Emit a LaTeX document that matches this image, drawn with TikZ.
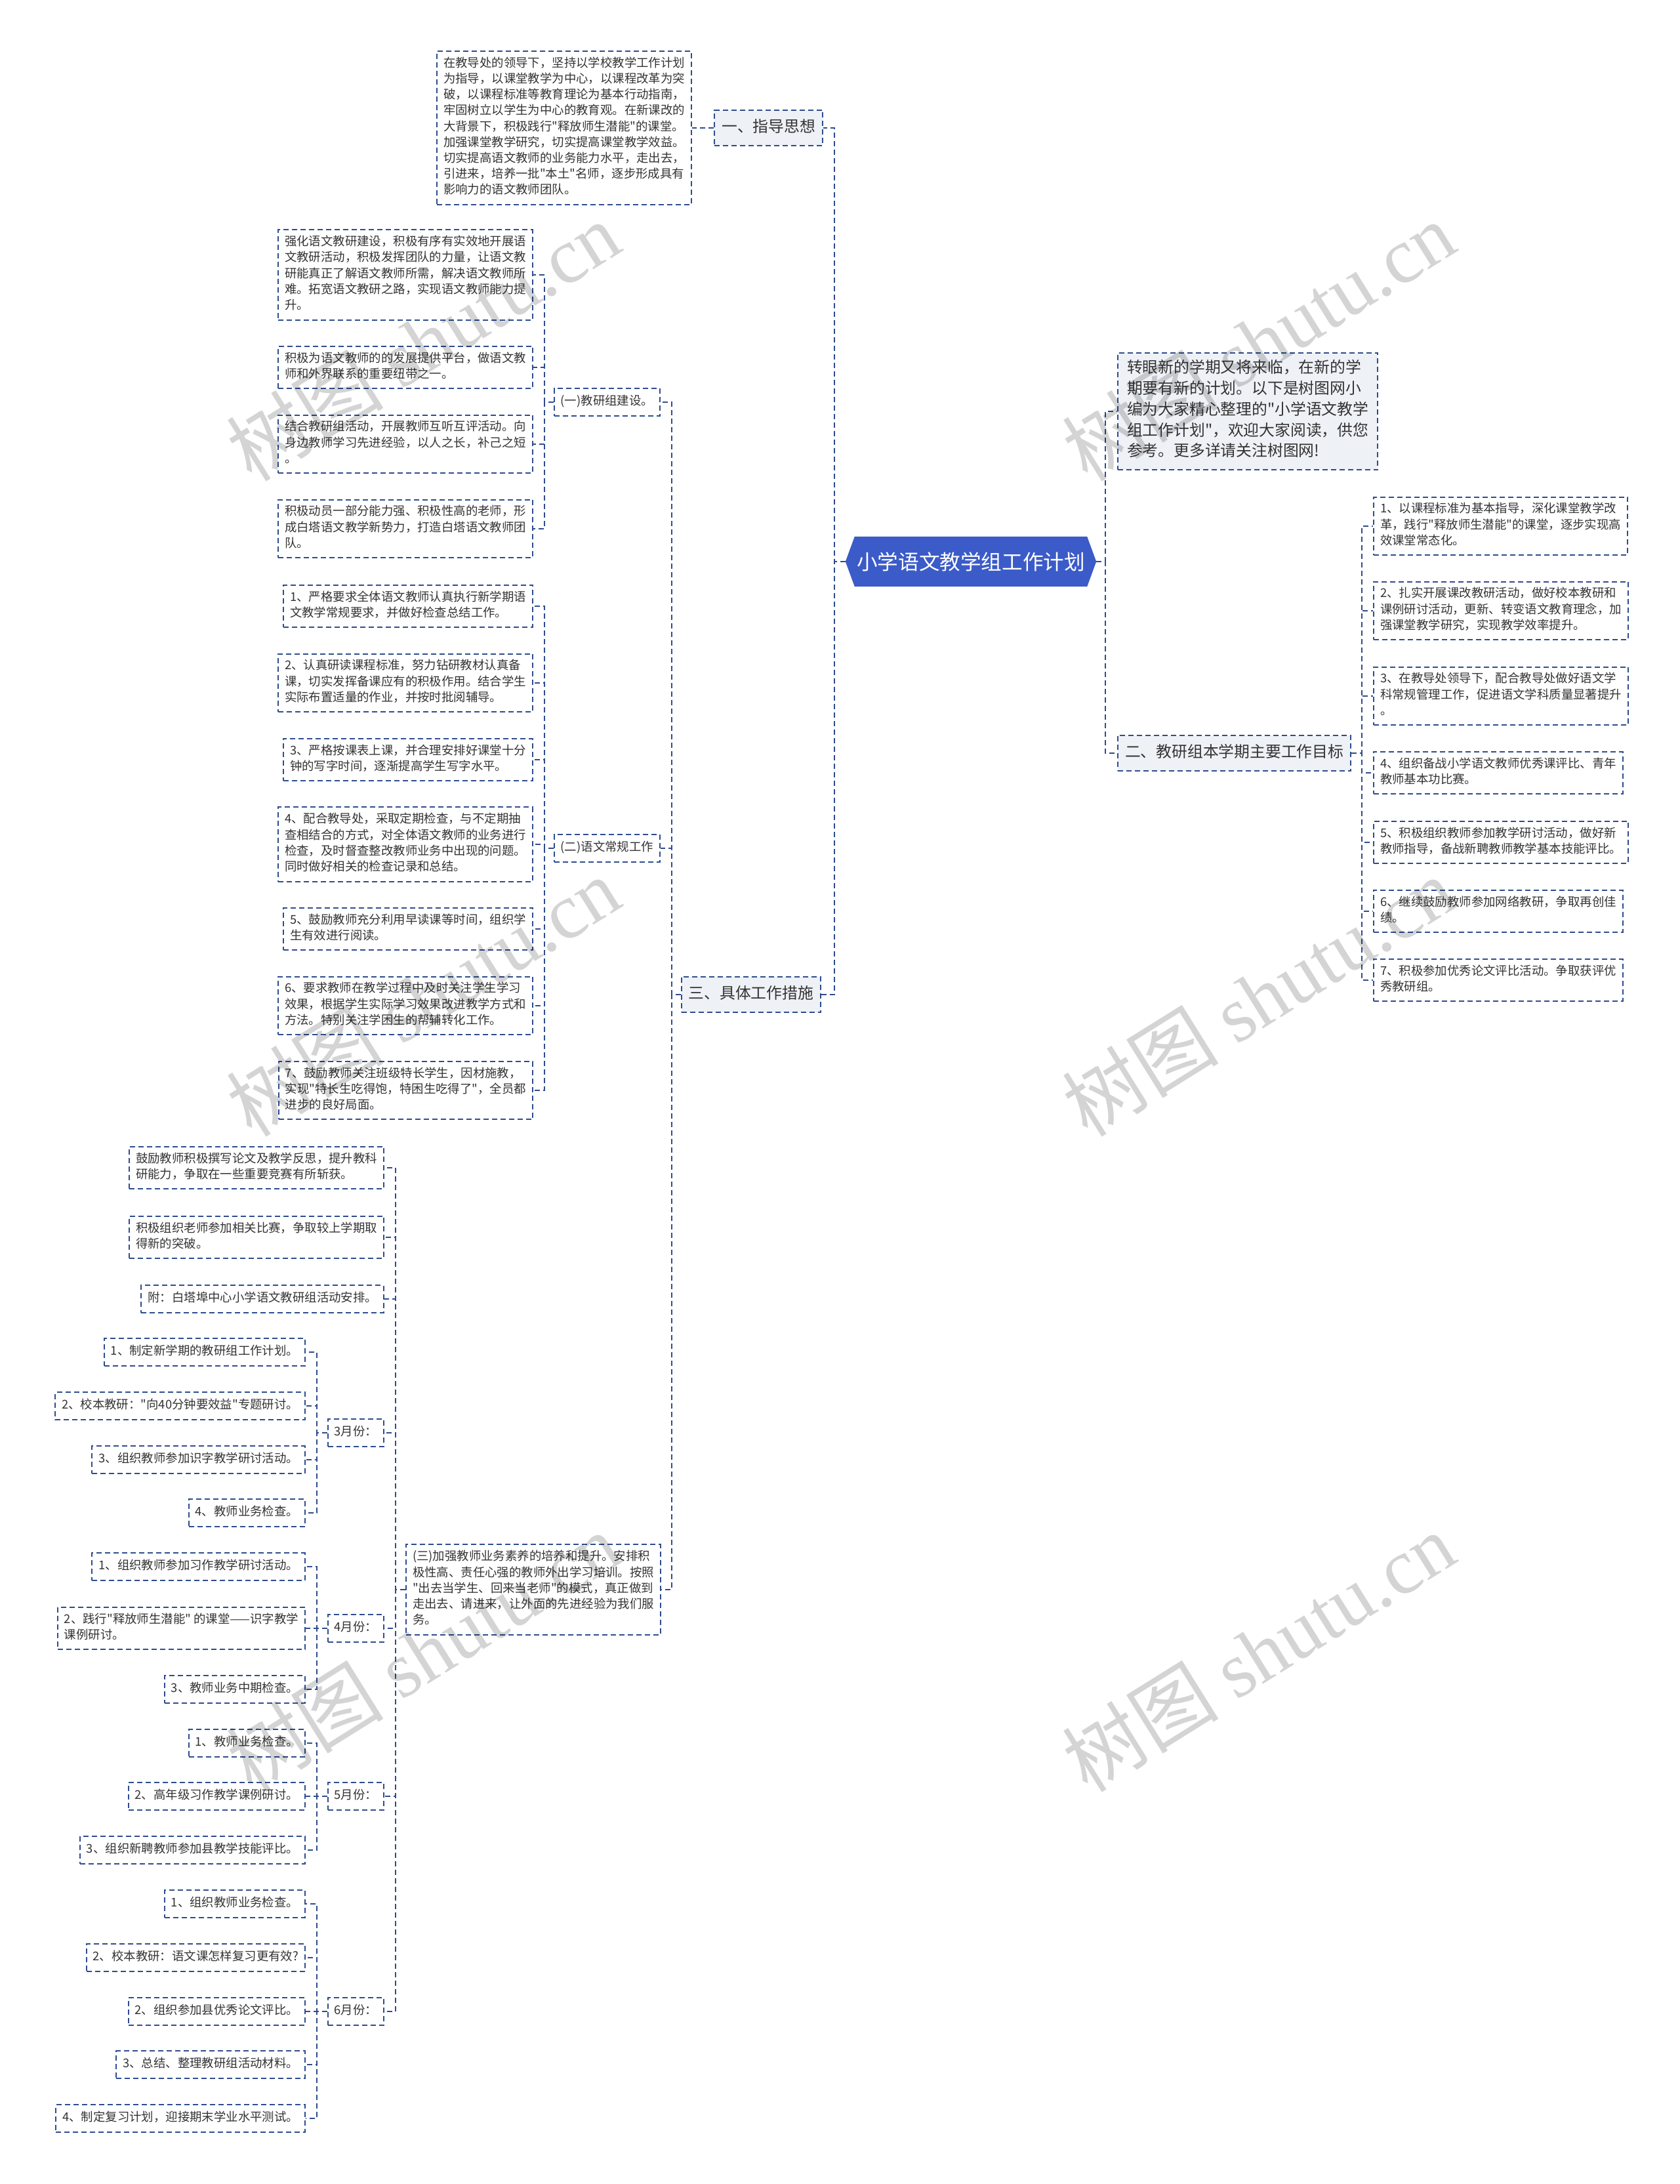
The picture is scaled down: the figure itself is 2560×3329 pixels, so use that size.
\documentclass[tikz,border=0pt]{standalone}
\usepackage{fontspec}
\setmainfont{Noto Sans CJK SC}[Ligatures=TeXOff]
\newfontfamily\wmfont{Liberation Serif}[Ligatures=TeXOff]
\definecolor{lc}{HTML}{2E4C8E}
\definecolor{bfill}{HTML}{EEF1F6}
\definecolor{rootc}{HTML}{3B5BC8}
\definecolor{tc}{HTML}{333333}
\pgfdeclarelayer{bg}
\pgfdeclarelayer{mid}
\pgfsetlayers{bg,mid,main}
\tikzset{
  box/.style={draw=lc, line width=2pt, dash pattern=on 8pt off 5pt, fill=white,
    text=tc, align=left, font=\fontsize{18.4pt}{24.2pt}\selectfont,
    inner xsep=10pt, inner ysep=8.8pt,
    execute at begin node=\strut, execute at end node=\strut},
  bigbox/.style={box, fill=bfill, font=\fontsize{23.8pt}{31.7pt}\selectfont,
    inner xsep=11pt, inner ysep=11.6pt},
  rootnode/.style={rectangle, text=white, font=\fontsize{31.6pt}{38pt}\selectfont,
    inner sep=0pt, minimum width=382pt, minimum height=76pt},
  conn/.style={draw=lc, line width=2pt, dash pattern=on 8pt off 5pt},
  wm/.style={rotate=32, text=black, text opacity=0.17,
    font=\fontsize{120pt}{120pt}\selectfont}
}
\begin{document}
\begin{tikzpicture}[x=1pt,y=-1pt]
\useasboundingbox (0,0) rectangle (2560,3329);

% root
\node[rootnode] (root) at (1480,856) {小学语文教学组工作计划};
\begin{pgfonlayer}{mid}
\fill[rootc] (root.west) -- ([xshift=14pt]root.north west) -- ([xshift=-14pt]root.north east)
  -- (root.east) -- ([xshift=-14pt]root.south east) -- ([xshift=14pt]root.south west) -- cycle;
\end{pgfonlayer}

% main branches
\node[bigbox, anchor=east] (b1) at (1255,195) {一、指导思想};
\node[bigbox, anchor=east] (b3) at (1252,1516) {三、具体工作措施};
\node[bigbox, anchor=west, inner xsep=14pt, inner ysep=11.2pt] (intro) at (1703,627)
 {转眼新的学期又将来临，在新的学\\期要有新的计划。以下是树图网小\\编为大家精心整理的"小学语文教学\\组工作计划"，欢迎大家阅读，供您\\参考。更多详请关注树图网!};
\node[bigbox, anchor=west] (b2) at (1703,1148) {二、教研组本学期主要工作目标};

% guide text
\node[box, anchor=east] (t1) at (1055,195)
 {在教导处的领导下，坚持以学校教学工作计划\\为指导，以课堂教学为中心，以课程改革为突\\破，以课程标准等教育理论为基本行动指南，\\牢固树立以学生为中心的教育观。在新课改的\\大背景下，积极践行"释放师生潜能"的课堂。\\加强课堂教学研究，切实提高课堂教学效益。\\切实提高语文教师的业务能力水平，走出去，\\引进来，培养一批"本土"名师，逐步形成具有\\影响力的语文教师团队。};

% sub branches of three
\node[box, anchor=east] (s1) at (1007,613) {(一)教研组建设。};
\node[box, anchor=east] (s2) at (1007,1293) {(二)语文常规工作};
\node[box, anchor=east] (s3) at (1008,2423)
 {(三)加强教师业务素养的培养和提升。安排积\\极性高、责任心强的教师外出学习培训。按照\\"出去当学生、回来当老师"的模式，真正做到\\走出去、请进来，让外面的先进经验为我们服\\务。};

% (一) children
\node[box, anchor=east] (a1) at (813,419)
 {强化语文教研建设，积极有序有实效地开展语\\文教研活动，积极发挥团队的力量，让语文教\\研能真正了解语文教师所需，解决语文教师所\\难。拓宽语文教研之路，实现语文教师能力提\\升。};
\node[box, anchor=east] (a2) at (813,560)
 {积极为语文教师的的发展提供平台，做语文教\\师和外界联系的重要纽带之一。};
\node[box, anchor=east] (a3) at (813,677)
 {结合教研组活动，开展教师互听互评活动。向\\身边教师学习先进经验，以人之长，补己之短\\。};
\node[box, anchor=east] (a4) at (813,806)
 {积极动员一部分能力强、积极性高的老师，形\\成白塔语文教学新势力，打造白塔语文教师团\\队。};

% (二) children
\node[box, anchor=east] (n1) at (813,924)
 {1、严格要求全体语文教师认真执行新学期语\\文教学常规要求，并做好检查总结工作。};
\node[box, anchor=east] (n2) at (813,1041)
 {2、认真研读课程标准，努力钻研教材认真备\\课，切实发挥备课应有的积极作用。结合学生\\实际布置适量的作业，并按时批阅辅导。};
\node[box, anchor=east] (n3) at (813,1158)
 {3、严格按课表上课，并合理安排好课堂十分\\钟的写字时间，逐渐提高学生写字水平。};
\node[box, anchor=east] (n4) at (813,1287)
 {4、配合教导处，采取定期检查，与不定期抽\\查相结合的方式，对全体语文教师的业务进行\\检查，及时督查整改教师业务中出现的问题。\\同时做好相关的检查记录和总结。};
\node[box, anchor=east] (n5) at (813,1416)
 {5、鼓励教师充分利用早读课等时间，组织学\\生有效进行阅读。};
\node[box, anchor=east] (n6) at (813,1533)
 {6、要求教师在教学过程中及时关注学生学习\\效果，根据学生实际学习效果改进教学方式和\\方法。特别关注学困生的帮辅转化工作。};
\node[box, anchor=east] (n7) at (813,1662)
 {7、鼓励教师关注班级特长学生，因材施教，\\实现"特长生吃得饱，特困生吃得了"，全员都\\进步的良好局面。};

% (三) children
\node[box, anchor=east] (e1) at (586,1780)
 {鼓励教师积极撰写论文及教学反思，提升教科\\研能力，争取在一些重要竞赛有所斩获。};
\node[box, anchor=east] (e2) at (586,1886)
 {积极组织老师参加相关比赛，争取较上学期取\\得新的突破。};
\node[box, anchor=east] (e3) at (586,1980) {附：白塔埠中心小学语文教研组活动安排。};
\node[box, anchor=east] (m3) at (586,2184) {3月份：};
\node[box, anchor=east] (m4) at (586,2482) {4月份：};
\node[box, anchor=east] (m5) at (586,2738) {5月份：};
\node[box, anchor=east] (m6) at (586,3066) {6月份：};

% month items
\node[box, anchor=east] (p31) at (466,2061) {1、制定新学期的教研组工作计划。};
\node[box, anchor=east] (p32) at (466,2143) {2、校本教研："向40分钟要效益"专题研讨。};
\node[box, anchor=east] (p33) at (466,2225) {3、组织教师参加识字教学研讨活动。};
\node[box, anchor=east] (p34) at (466,2306) {4、教师业务检查。};
\node[box, anchor=east] (p41) at (466,2388) {1、组织教师参加习作教学研讨活动。};
\node[box, anchor=east] (p42) at (466,2482) {2、践行"释放师生潜能" 的课堂——识字教学\\课例研讨。};
\node[box, anchor=east] (p43) at (466,2575) {3、教师业务中期检查。};
\node[box, anchor=east] (p51) at (466,2657) {1、教师业务检查。};
\node[box, anchor=east] (p52) at (466,2738) {2、高年级习作教学课例研讨。};
\node[box, anchor=east] (p53) at (466,2820) {3、组织新聘教师参加县教学技能评比。};
\node[box, anchor=east] (p61) at (466,2902) {1、组织教师业务检查。};
\node[box, anchor=east] (p62) at (466,2984) {2、校本教研：语文课怎样复习更有效?};
\node[box, anchor=east] (p63) at (466,3066) {2、组织参加县优秀论文评比。};
\node[box, anchor=east] (p64) at (466,3147) {3、总结、整理教研组活动材料。};
\node[box, anchor=east] (p65) at (466,3229) {4、制定复习计划，迎接期末学业水平测试。};

% right goals
\node[box, anchor=west] (g1) at (2093,802)
 {1、以课程标准为基本指导，深化课堂教学改\\革，践行"释放师生潜能"的课堂，逐步实现高\\效课堂常态化。};
\node[box, anchor=west] (g2) at (2093,931)
 {2、扎实开展课改教研活动，做好校本教研和\\课例研讨活动，更新、转变语文教育理念，加\\强课堂教学研究，实现教学效率提升。};
\node[box, anchor=west] (g3) at (2093,1061)
 {3、在教导处领导下，配合教导处做好语文学\\科常规管理工作，促进语文学科质量显著提升\\。};
\node[box, anchor=west] (g4) at (2093,1178)
 {4、组织备战小学语文教师优秀课评比、青年\\教师基本功比赛。};
\node[box, anchor=west] (g5) at (2093,1284)
 {5、积极组织教师参加教学研讨活动，做好新\\教师指导，备战新聘教师教学基本技能评比。};
\node[box, anchor=west] (g6) at (2093,1389)
 {6、继续鼓励教师参加网络教研，争取再创佳\\绩。};
\node[box, anchor=west] (g7) at (2093,1494)
 {7、积极参加优秀论文评比活动。争取获评优\\秀教研组。};

% vertical guide coordinates
\coordinate (vL) at (1272,0);
\coordinate (vR) at (1685,0);
\coordinate (v3) at (1024,0);
\coordinate (vA) at (830,0);
\coordinate (vC) at (603,0);
\coordinate (vM) at (483,0);
\coordinate (vG) at (2076,0);

% connectors
\begin{pgfonlayer}{bg}
\foreach \c in {b1,b3} \draw[conn] (root.west) -- (root.west -| vL) |- (\c.east);
\foreach \c in {intro,b2} \draw[conn] (root.east) -- (root.east -| vR) |- (\c.west);
\draw[conn] (b1.west) -- (b1.west -| t1.east);
\foreach \c in {s1,s2,s3} \draw[conn] (b3.west) -- (b3.west -| v3) |- (\c.east);
\foreach \c in {a1,a2,a3,a4} \draw[conn] (s1.west) -- (s1.west -| vA) |- (\c.east);
\foreach \c in {n1,n2,n3,n4,n5,n6,n7} \draw[conn] (s2.west) -- (s2.west -| vA) |- (\c.east);
\foreach \c in {e1,e2,e3,m3,m4,m5,m6} \draw[conn] (s3.west) -- (s3.west -| vC) |- (\c.east);
\foreach \c in {p31,p32,p33,p34} \draw[conn] (m3.west) -- (m3.west -| vM) |- (\c.east);
\foreach \c in {p41,p42,p43} \draw[conn] (m4.west) -- (m4.west -| vM) |- (\c.east);
\foreach \c in {p51,p52,p53} \draw[conn] (m5.west) -- (m5.west -| vM) |- (\c.east);
\foreach \c in {p61,p62,p63,p64,p65} \draw[conn] (m6.west) -- (m6.west -| vM) |- (\c.east);
\foreach \c in {g1,g2,g3,g4,g5,g6,g7} \draw[conn] (b2.east) -- (b2.east -| vG) |- (\c.west);
\end{pgfonlayer}

% watermarks
\foreach \i/\x/\y in {1/645/520, 2/1918/520, 3/645/1519, 4/1918/1519, 5/645/2518, 6/1918/2518}
  \node[wm] (wm\i) at (\x,\y) {树图 {\wmfont shutu.cn}};
\end{tikzpicture}
\end{document}
